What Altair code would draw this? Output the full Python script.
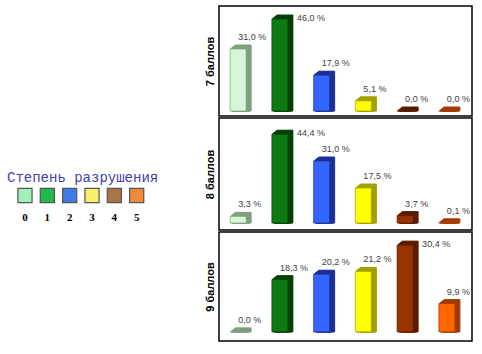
import altair as alt
import pandas as pd

categories = ["0", "1", "2", "3", "4", "5"]
panel_titles = ["7 баллов", "8 баллов", "9 баллов"]
values_7 = [31.0, 46.0, 17.9, 5.1, 0.0, 0.0]
values_8 = [3.3, 44.4, 31.0, 17.5, 3.7, 0.1]
values_9 = [0.0, 18.3, 20.2, 21.2, 30.4, 9.9]
front_colors = ["#d6f7d6", "#0b7a12", "#3366ff", "#ffff00", "#993300", "#ff6600"]
side_colors = ["#7f9f7f", "#064006", "#1f2f99", "#a0a000", "#5a1c00", "#a33c00"]
legend_colors = ["#a0f0b8", "#20bb4c", "#3f7be8", "#f6f06a", "#a87546", "#ee8a3a"]
legend_title = "Степень разрушения"


def panel(title, values, domain, height):
    df = pd.DataFrame({"cat": categories, "value": values,
                       "front": front_colors, "side": side_colors})
    df["label"] = [f"{v:.1f}".replace(".", ",") + " %" for v in values]
    vmax = max(values)
    df["pos"] = ["side" if v == vmax else "above" for v in values]
    x = alt.X("cat:N", scale=alt.Scale(paddingInner=0, paddingOuter=0.03), axis=None)
    y = alt.Y("value:Q",
              scale=alt.Scale(domain=domain, nice=False, zero=False),
              axis=alt.Axis(title=title, labels=False, ticks=False, domain=False,
                            grid=False, titleFont="Liberation Sans",
                            titleFontWeight="bold", titleFontSize=11,
                            titlePadding=4, titleColor="black"))
    base = alt.Chart(df)
    layers = []
    for k in range(5, 0, -1):
        layers.append(
            base.mark_bar(width=16, xOffset=-3 + k, yOffset=-0.8 * k, strokeWidth=1)
            .encode(x=x, y=y, y2=alt.datum(0),
                    color=alt.Color("side:N", scale=None),
                    stroke=alt.Stroke("side:N", scale=None))
        )
    layers.append(
        base.mark_bar(width=16, xOffset=-3, strokeWidth=0.7)
        .encode(x=x, y=y, y2=alt.datum(0),
                color=alt.Color("front:N", scale=None),
                stroke=alt.Stroke("side:N", scale=None))
    )
    layers.append(
        base.transform_filter(alt.datum.pos == "above")
        .mark_text(align="left", baseline="middle", dx=-3, dy=-12, fontSize=9,
                   font="Liberation Sans", color="#404040")
        .encode(x=x, y=y, text="label:N")
    )
    layers.append(
        base.transform_filter(alt.datum.pos == "side")
        .mark_text(align="left", baseline="middle", dx=14, dy=-1, fontSize=9,
                   font="Liberation Sans", color="#404040")
        .encode(x=x, y=y, text="label:N")
    )
    return alt.layer(*layers).properties(width=253, height=height)


p1 = panel(panel_titles[0], values_7, [-2.5, 52.5], 110)
p2 = panel(panel_titles[1], values_8, [-3.5, 52.5], 112)
p3 = panel(panel_titles[2], values_9, [-3.2, 35.0], 109)
panels = alt.vconcat(p1, p2, p3, spacing=0)

leg_df = pd.DataFrame({"cat": list(range(6)), "color": legend_colors, "label": categories})
lx = alt.X("cat:Q", scale=alt.Scale(domain=[-0.85, 7.43]), axis=None)
leg_base = alt.Chart(leg_df)
squares = leg_base.mark_square(size=200, strokeWidth=1.2, stroke="#555555", opacity=1).encode(
    x=lx, y=alt.value(189.5), color=alt.Color("color:N", scale=None))
digits = leg_base.mark_text(font="Liberation Serif", fontWeight="bold", fontSize=11,
                            color="black", baseline="middle").encode(
    x=lx, y=alt.value(212), text="label:N")
title_df = pd.DataFrame({"t": [legend_title]})
leg_title = alt.Chart(title_df).mark_text(font="Liberation Mono", fontSize=14,
                                          color="#4040b0", align="left",
                                          baseline="middle").encode(
    x=alt.value(1), y=alt.value(172), text="t:N")
legend = alt.layer(squares, digits, leg_title).properties(
    width=185, height=331, view=alt.ViewConfig(stroke="transparent"))

chart = alt.hconcat(legend, panels, spacing=11).configure_view(
    stroke="black", strokeWidth=1.5).properties(background="white")

chart.save("out.html", embed_options={"renderer": "svg", "actions": False})
